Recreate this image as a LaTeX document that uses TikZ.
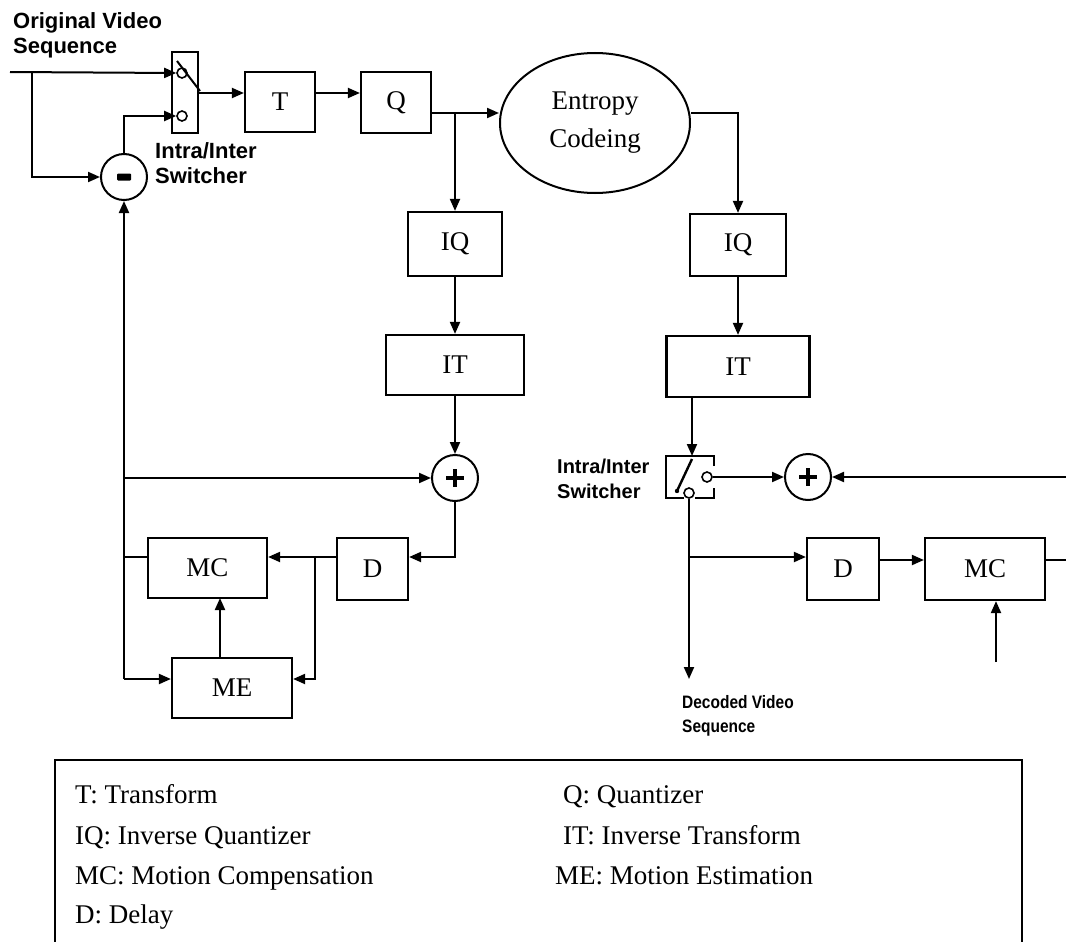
\documentclass[tikz,border=0pt]{standalone}
\usepackage{fontspec}
\setmainfont{Liberation Serif}
\setsansfont{Liberation Sans}
\newfontfamily\narrowsans{Liberation Sans}[FakeStretch=0.86]
\usetikzlibrary{arrows.meta,shapes.geometric}

\tikzset{
  wire/.style={line width=2pt},
  arr/.style={wire,-{Triangle[length=12pt,width=10pt]}},
  blk/.style={draw,line width=2.2pt,inner sep=0pt,font=\fontsize{27}{30}\selectfont},
  sum/.style={draw,circle,line width=2pt,minimum size=46pt,inner sep=0pt},
  term/.style={draw,circle,line width=1.6pt,minimum size=10pt,inner sep=0pt,fill=white},
  tag/.style={font=\sffamily\bfseries\fontsize{22}{25}\selectfont,align=left,inner sep=0pt},
  key/.style={font=\fontsize{27}{30}\selectfont,anchor=base west,inner sep=0pt}
}

\begin{document}
\begin{tikzpicture}[x=1pt,y=-1pt]
\useasboundingbox (0,0) rectangle (1066,942);

% ---------------- encoder ----------------
\node[blk,minimum width=70pt,minimum height=60pt] (T) at (280,102) {T};
\node[blk,minimum width=70pt,minimum height=61pt] (Q) at (396,102.5) {Q};
\node[draw,ellipse,line width=2pt,minimum width=190pt,minimum height=140pt,inner sep=0pt,
      align=center,font=\fontsize{27}{38}\selectfont] (ent) at (595,123) {Entropy\\Codeing};
\node[blk,minimum width=94pt,minimum height=64pt] (IQa) at (455,244) {IQ};
\node[blk,minimum width=138pt,minimum height=60pt] (ITa) at (455,365) {IT};
\node[sum] (plusa) at (455,478) {};
\node[sum] (minus) at (124,177) {};
\node[blk,minimum width=119pt,minimum height=60pt] (MCa) at (207.5,568) {MC};
\node[blk,minimum width=71pt,minimum height=62pt] (Da) at (372.5,569) {D};
\node[blk,minimum width=120pt,minimum height=60pt] (MEa) at (232,688) {ME};

% signs inside the summing junctions
\fill[rounded corners=1pt] (117,173.5) rectangle (131,180.5);
\draw[line width=4pt] (446,478) -- (464,478) (455,469) -- (455,487);

% intra/inter switch of the encoder
\node[draw,line width=2pt,minimum width=26pt,minimum height=81pt,inner sep=0pt] (swa) at (185,92.5) {};
\node[term] (swaup) at (182,73) {};
\node[term] (swalo) at (182,116) {};
\draw[wire] (177,61) -- (200,91);

\coordinate (src) at (10,72);
\coordinate (srcsplit) at (32,72);
\coordinate (busbot) at (124,679);
\coordinate (busmid) at (124,478);
\coordinate (busmc) at (124,557);
\coordinate (qsplit) at (455,113);
\coordinate (dsplit) at (315,557);
\coordinate (meout) at (220,658);
\coordinate (mcin) at (220,598);

\draw[arr] (src) -- (swaup.west);
\draw[arr] (srcsplit) |- (minus.west);
\draw[arr] (minus.north) |- (swalo.west);
\draw[arr] (swa.east |- 0,93) -- (T.west |- 0,93);
\draw[arr] (T.east |- 0,93) -- (Q.west |- 0,93);
\draw[arr] (Q.east |- 0,113) -- (ent.west |- 0,113);
\draw[arr] (qsplit) -- (IQa.north);
\draw[arr] (IQa) -- (ITa);
\draw[arr] (ITa) -- (plusa);
\draw[arr] (busbot) -- (minus.south);
\draw[arr] (busmid) -- (plusa.west);
\draw[arr] (busbot) -- (MEa.west |- busbot);
\draw[wire] (MCa.west |- busmc) -- (busmc);
\draw[arr] (plusa.south) |- (Da.east |- 0,557);
\draw[arr] (Da.west |- 0,557) -- (MCa.east |- 0,557);
\draw[arr] (dsplit) |- (MEa.east |- busbot);
\draw[arr] (meout) -- (mcin);

\node[tag,anchor=north west] (inlbl) at (13,12) {Original Video\\Sequence};
\node[tag,anchor=north west] (swalbl) at (155,142) {Intra/Inter\\Switcher};

% ---------------- decoder ----------------
\node[blk,minimum width=96pt,minimum height=62pt] (IQb) at (738,245) {IQ};
\node[blk,minimum width=143pt,minimum height=61pt] (ITb) at (738,366.5) {IT};
\node[sum] (plusb) at (808,477) {};
\draw[line width=4pt] (799,477) -- (817,477) (808,468) -- (808,486);
\node[blk,minimum width=72pt,minimum height=62pt] (Db) at (843,569) {D};
\node[blk,minimum width=120pt,minimum height=62pt] (MCb) at (985,569) {MC};

% intra/inter switch of the decoder (open frame)
\node[minimum width=48pt,minimum height=42pt,inner sep=0pt] (swb) at (690,477) {};
\draw[line width=2pt] (714,466) -- (714,456) -- (666,456) -- (666,498) -- (684,498);
\draw[line width=2pt] (695,498) -- (714,498) -- (714,488);
\node[term] (swbr) at (707,477) {};
\node[term] (swbb) at (689,493) {};
\draw[line width=2.4pt] (692,459) -- (677,491);
\fill (677,491) circle (2.2pt);

\coordinate (itbout) at (692,397);
\coordinate (swbin) at (692,456);
\coordinate (decout) at (689,679);
\coordinate (decsplit) at (689,557);
\coordinate (rin) at (1066,477);
\coordinate (rout) at (1066,560);
\coordinate (mvin) at (996,662);

\draw[arr] (ent.east |- 0,113) -| (IQb.north);
\draw[arr] (IQb) -- (ITb);
\draw[arr] (itbout) -- (swbin);
\draw[arr] (swbr.east) -- (plusb.west);
\draw[arr] (rin) -- (plusb.east);
\draw[arr] (swbb.south) -- (decout);
\draw[arr] (decsplit) -- (Db.west |- decsplit);
\draw[arr] (Db.east |- 0,560) -- (MCb.west |- 0,560);
\draw[wire] (MCb.east |- 0,560) -- (rout);
\draw[arr] (mvin) -- (MCb.south -| mvin);

\node[tag,anchor=north west,font=\sffamily\bfseries\fontsize{20}{25}\selectfont] (swblbl) at (557,459) {Intra/Inter\\Switcher};
\node[tag,anchor=north west,font=\narrowsans\bfseries\fontsize{18}{24}\selectfont] (declbl) at (682,695) {Decoded Video\\Sequence};

% ---------------- legend ----------------
\draw[line width=2pt] (55,945) -- (55,760) -- (1022,760) -- (1022,945);
\node[key] (kT)  at (75,803)  {T: Transform};
\node[key] (kIQ) at (75,844)  {IQ: Inverse Quantizer};
\node[key] (kMC) at (75,884)  {MC: Motion Compensation};
\node[key] (kD)  at (75,923)  {D: Delay};
\node[key] (kQ)  at (563,803) {Q: Quantizer};
\node[key] (kIT) at (563,844) {IT: Inverse Transform};
\node[key] (kME) at (555,884) {ME: Motion Estimation};
\end{tikzpicture}
\end{document}
